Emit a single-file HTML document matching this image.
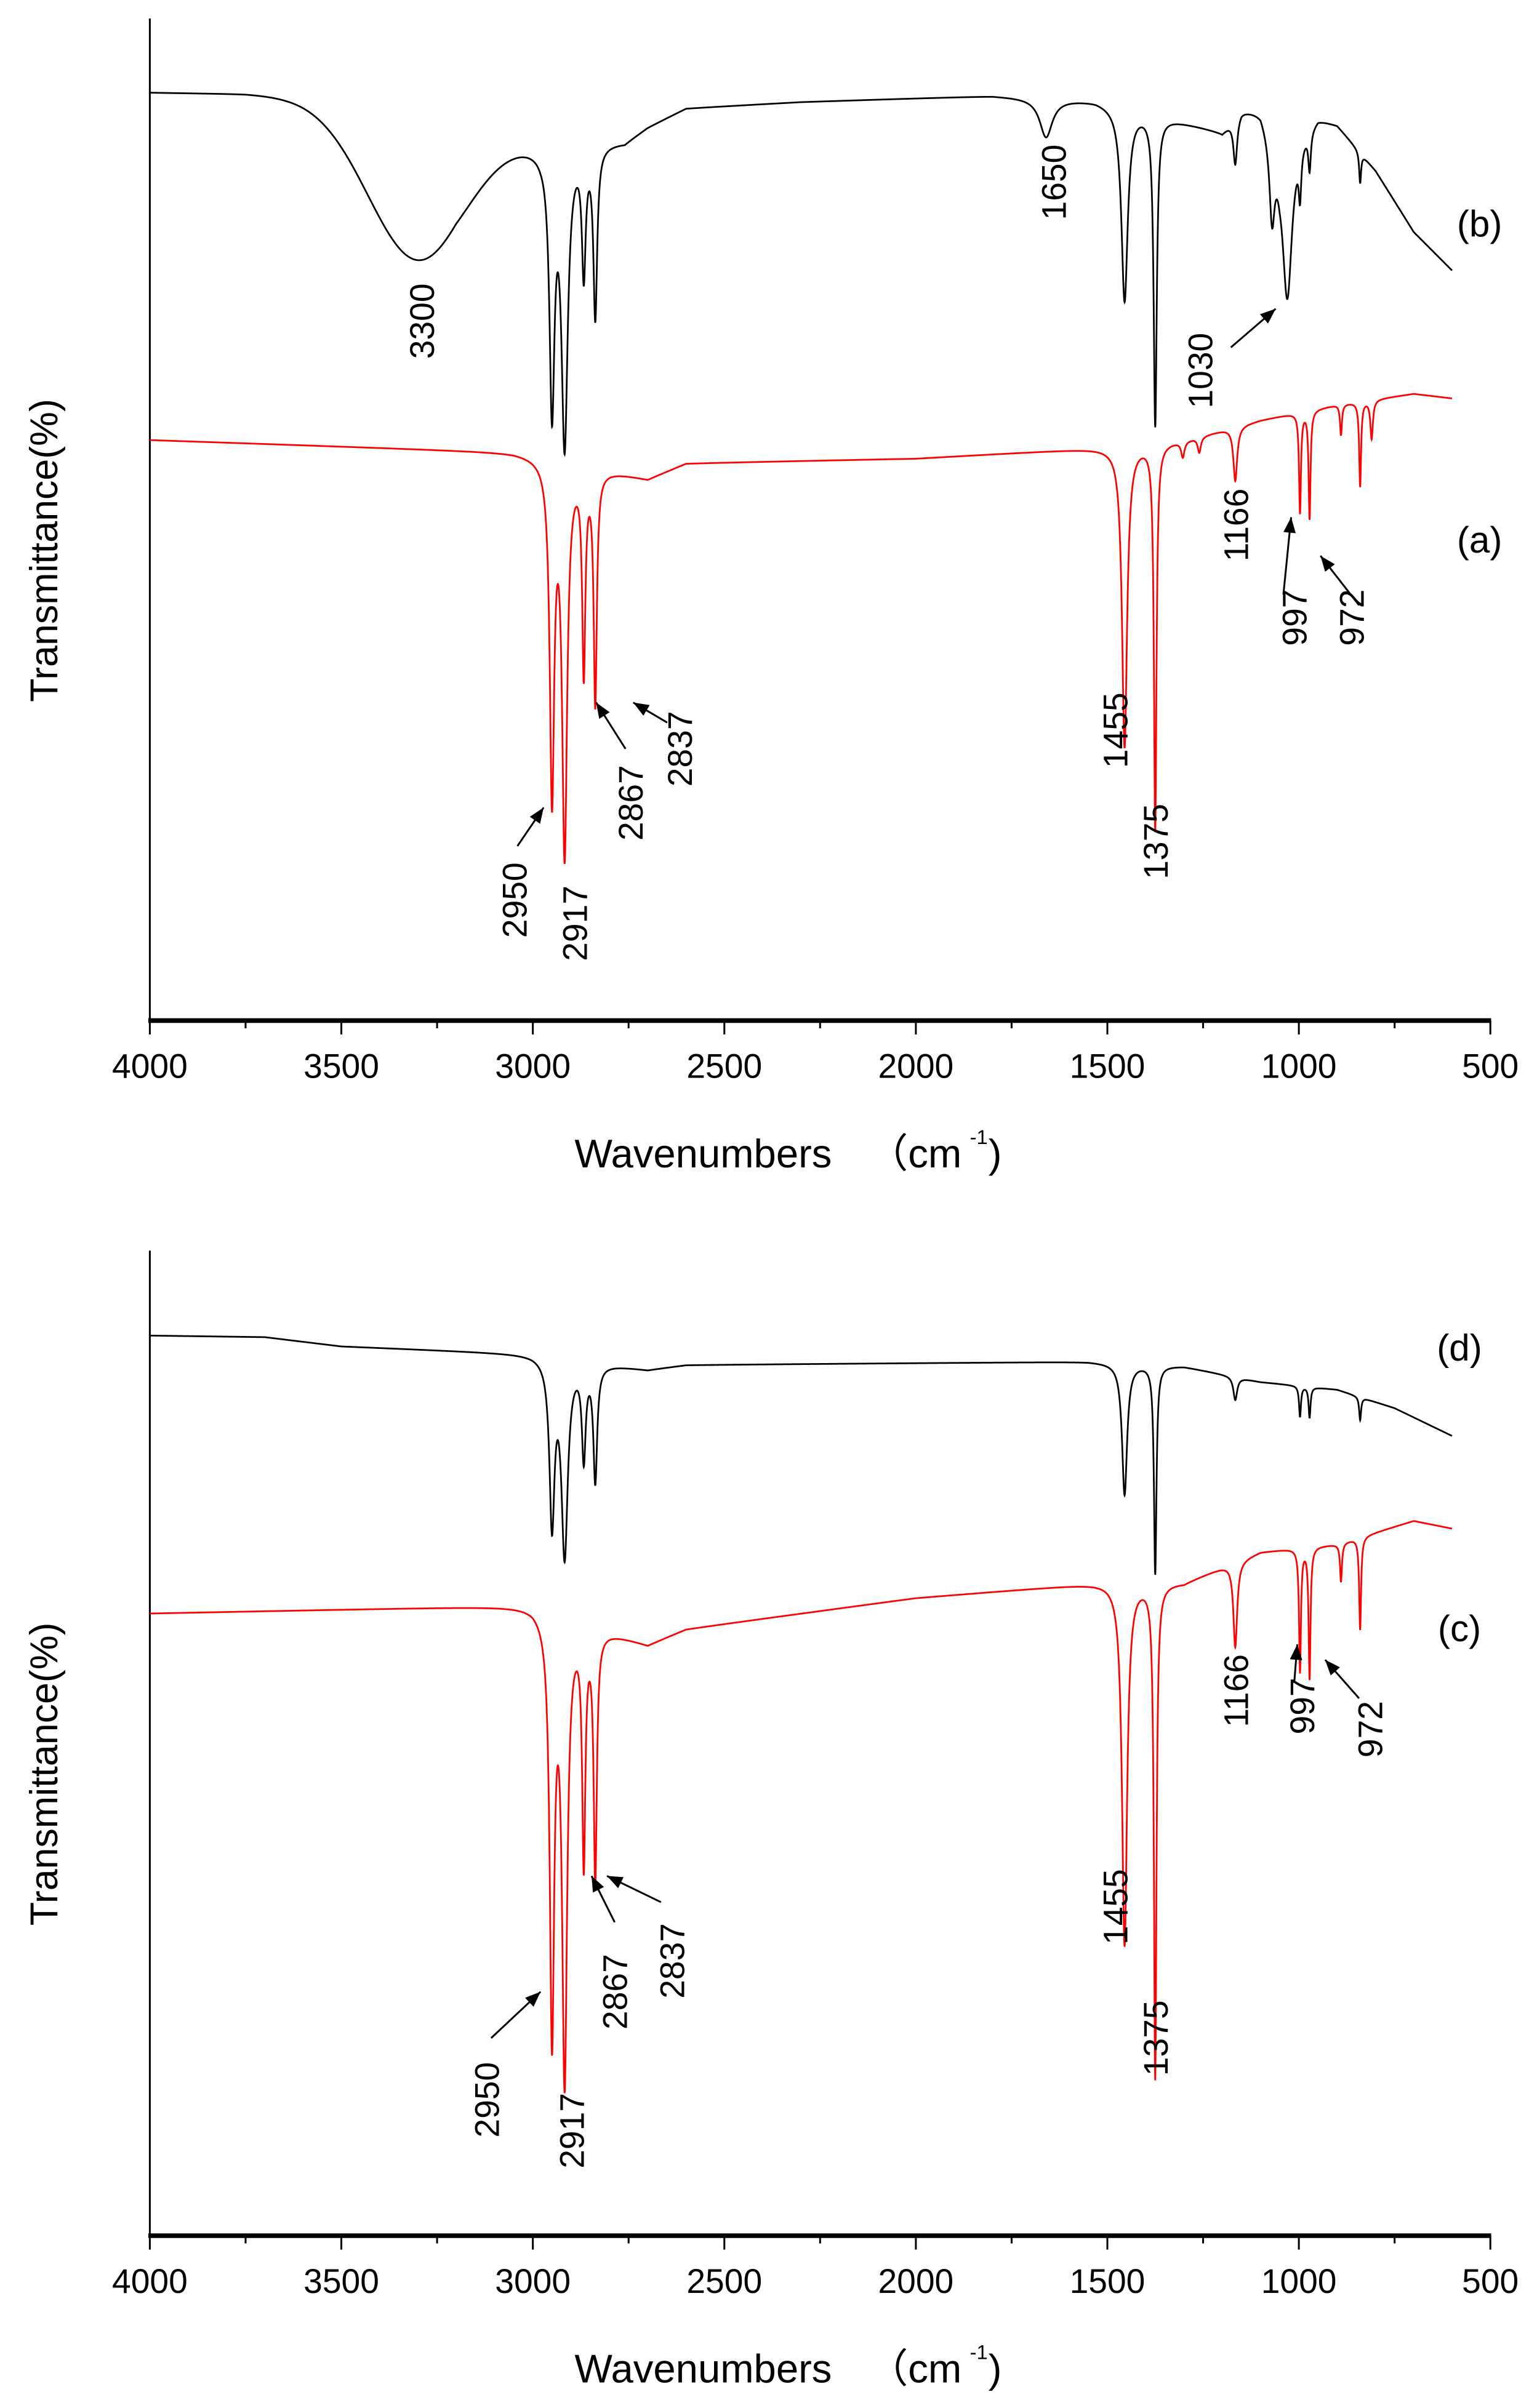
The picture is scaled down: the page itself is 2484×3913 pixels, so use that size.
<!DOCTYPE html>
<html><head><meta charset="utf-8"><style>
html,body{margin:0;padding:0;background:#fff;}
svg{display:block;}
text{font-family:"Liberation Sans","Noto Sans CJK SC",sans-serif;fill:#000;}
</style></head><body>
<svg id="s" width="2484" height="3913" viewBox="0 0 990 1559.6" xmlns="http://www.w3.org/2000/svg">
<rect width="990" height="1560" fill="#fff"/>
<g id="axes" stroke="#000" fill="none"></g>
<g id="spec" fill="none" stroke-width="1.1"></g>
<g id="txt" font-size="22"></g>
<g id="arr"></g>
</svg>
<script>
const NS="http://www.w3.org/2000/svg";
const X=w=>97+(4000-w)/3500*868;
function el(p,tag,attrs,txt){const e=document.createElementNS(NS,tag);for(const k in attrs)e.setAttribute(k,attrs[k]);if(txt!==undefined)e.textContent=txt;document.getElementById(p).appendChild(e);return e;}
function interp(b,w){for(let i=0;i<b.length-1;i++){if(w<=b[i][0]&&w>=b[i+1][0]){const t=(b[i][0]-w)/(b[i][0]-b[i+1][0]);return b[i][1]+t*(b[i+1][1]-b[i][1]);}}return b[b.length-1][1];}
function spec(b,pk,col,gs){let d="";for(let w=4000;w>=600;w-=0.5){let y=interp(b,w);for(const p of pk){const u=(w-p[0])/p[2];y+=p[1]/(1+u*u);}
 if(gs)for(const g of gs){const u=(w-g[0])/g[2];y+=g[1]*Math.exp(-u*u/2);}
 d+=(d?"L":"M")+X(w).toFixed(2)+","+y.toFixed(2);}el("spec","path",{d:d,stroke:col});}
for(const [top,bot] of [[12,661],[810,1448]]){
 el("axes","line",{x1:97,y1:top,x2:97,y2:bot,"stroke-width":1.2});
 el("axes","line",{x1:96,y1:bot,x2:965.5,y2:bot,"stroke-width":3});
 for(let w=4000;w>=500;w-=250){const maj=w%500==0;el("axes","line",{x1:X(w),y1:bot,x2:X(w),y2:bot+(maj?9:5),"stroke-width":1.2});
  if(maj)el("txt","text",{x:X(w),y:bot+37,"text-anchor":"middle"},w);}
 el("txt","text",{x:372,y:bot+95,"font-size":26},"Wavenumbers");
 el("txt","text",{x:562,y:bot+95,"font-size":26},"（cm");
 el("txt","text",{x:628,y:bot+80,"font-size":13},"-1");
 el("txt","text",{x:640,y:bot+95,"font-size":26},")");
 el("txt","text",{transform:`translate(37,${(top+bot)/2+20}) rotate(-90)`,"text-anchor":"middle","font-size":25},"Transmittance(%)");
}
spec([[4000,60],[3750,61],[3600,63],[3200,70],[3020,88],[2980,92],[2760,92],[2700,82],[2600,70],[2300,66],[1800,62],[1530,65],[1200,85],[1150,70],[1100,70],[1050,95],[950,75],[900,80],[800,110],[700,150],[600,175]],
 [[2950,165,8],[2917,190,10],[2867,80,6],[2837,110,6],[1660,25,20],[1455,125,10],[1375,200,5],[1030,100,15],[1070,50,8],[1166,30,6],[997,30,4],[972,25,4],[840,20,3]],"#000",[[3300,100,130]]);
spec([[4000,285],[3050,293],[2980,295],[2700,310],[2600,300],[2000,297],[1500,290],[1300,285],[1100,272],[900,262],[700,255],[600,258]],
 [[2950,215,7],[2917,250,8],[2867,130,5],[2837,150,5],[1455,195,8],[1375,250,4],[1166,35,6],[997,65,3],[972,70,3],[890,20,3],[840,55,3],[810,25,4],[1303,10,5],[1260,10,5]],"#f00");
spec([[4000,865],[3700,866],[3500,872],[3000,877],[2700,887],[2600,884],[1550,882],[1300,885],[1100,895],[900,900],[750,912],[600,930]],
 [[2950,105,8],[2917,125,10],[2867,60,6],[2837,75,6],[1455,85,8],[1375,135,4],[1166,15,6],[997,20,3],[972,20,3],[840,15,3]],"#000");
spec([[4000,1045],[3000,1040],[2700,1065],[2600,1055],[2000,1035],[1500,1025],[1300,1025],[1100,1005],[900,1000],[700,985],[600,990]],
 [[2950,270,7],[2917,295,8],[2867,150,5],[2837,160,5],[1455,235,8],[1375,320,4],[1166,55,6],[997,80,3],[972,85,3],[840,60,3],[890,25,3]],"#f00");
function vl(t,x,y){el("txt","text",{transform:`translate(${x+8},${y}) rotate(-90)`,"text-anchor":"middle"},t);}
function hl(t,x,y){el("txt","text",{x:x,y:y+8,"text-anchor":"middle","font-size":24},t);}
vl("3300",273,208);vl("1650",682,118);vl("1030",777,240);hl("(b)",958,145);hl("(a)",958,350);
vl("1166",800,340);vl("997",838,400);vl("972",875,400);vl("1455",722,473);vl("1375",748,545);
vl("2950",333,583);vl("2917",372,598);vl("2867",408,520);vl("2837",440,485);
hl("(d)",945,873);hl("(c)",945,1055);vl("1166",800,1095);vl("997",843,1105);vl("972",887,1120);
vl("1455",722,1235);vl("1375",748,1320);vl("2950",315,1360);vl("2917",370,1380);vl("2867",398,1290);vl("2837",435,1270);
function ar(x1,y1,x2,y2){el("arr","line",{x1:x1,y1:y1,x2:x2,y2:y2,stroke:"#000","stroke-width":1.2});const a=Math.atan2(y2-y1,x2-x1),L=10,W=4;
 const p=[[x2,y2],[x2-L*Math.cos(a)+W*Math.sin(a),y2-L*Math.sin(a)-W*Math.cos(a)],[x2-L*Math.cos(a)-W*Math.sin(a),y2-L*Math.sin(a)+W*Math.cos(a)]];
 el("arr","polygon",{points:p.map(q=>q.join(",")).join(" "),fill:"#000"});}
ar(797,225,826,200);ar(831,385,836,335);ar(880,392,855,360);
ar(335,548,352,523);ar(405,485,386,455);ar(432,468,410,455);
ar(838,1090,840,1065);ar(880,1100,858,1075);
ar(318,1320,350,1290);ar(398,1245,383,1215);ar(428,1232,393,1215);
</script>
</body></html>
